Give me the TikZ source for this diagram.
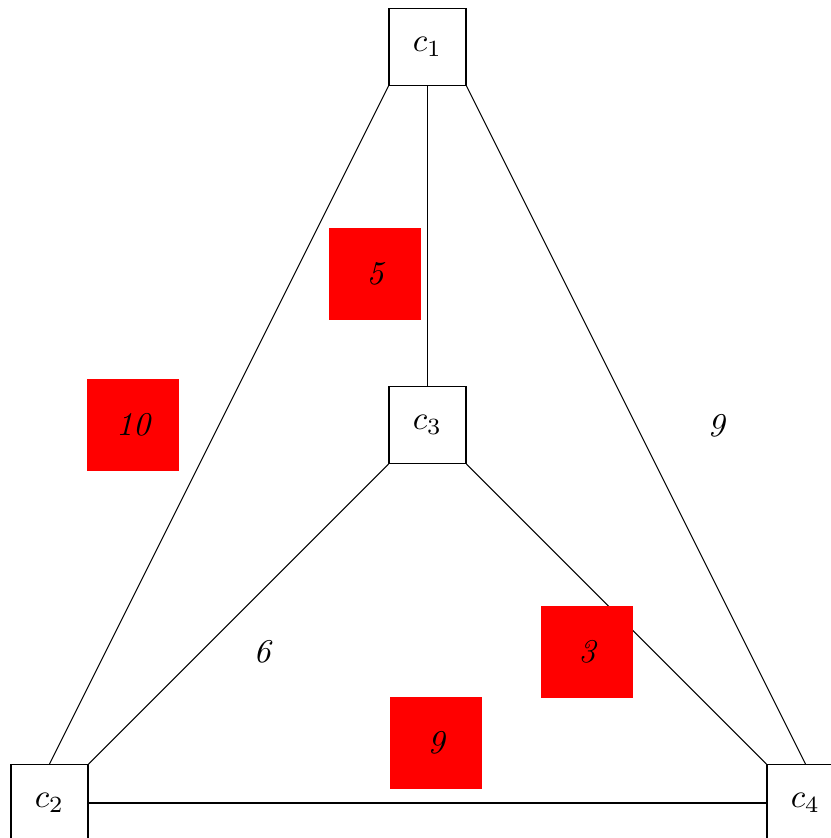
\documentclass[tikz,border=0pt]{standalone}
\begin{document}
\begin{tikzpicture}[x=0.3012pt,y=-0.3012pt,
  cbox/.style={draw,line width=0.32pt,minimum size=23.2pt,inner sep=0pt,fill=white},
  redbox/.style={fill=red,minimum size=27.7pt,inner sep=0pt,font=\itshape},
  plainlab/.style={inner sep=0pt,font=\itshape},
  edge/.style={line width=0.32pt}]
\useasboundingbox (0,0) rectangle (830,838);
\node[cbox] (c1) at (427.5,47) {$c_1$};
\node[cbox] (c3) at (427.5,425) {$c_3$};
\node[cbox] (c2) at (49.5,803) {$c_2$};
\node[cbox] (c4) at (805.5,803) {$c_4$};
\draw[edge] (c1.south west) -- (c2.north);
\draw[edge] (c1.south) -- (c3.north);
\draw[edge] (c1.south east) -- (c4.north);
\draw[edge] (c3.south west) -- (c2.north east);
\draw[edge] (c3.south east) -- (c4.north west);
\draw[edge] (c2.east) -- (c4.west);
\node[redbox] (l5) at (375,274) {5};
\node[redbox] (l10) at (133,425) {10};
\node[redbox] (l3) at (587,652) {3};
\node[redbox] (l9b) at (436,743) {9};
\node[plainlab] (l9) at (716,426) {9};
\node[plainlab] (l6) at (262,652) {6};
\end{tikzpicture}
\end{document}
